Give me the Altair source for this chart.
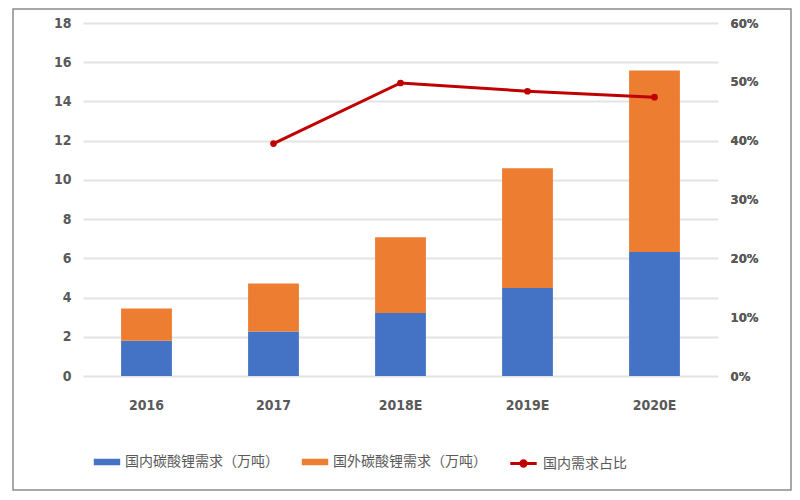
import altair as alt
import pandas as pd

years = ["2016", "2017", "2018E", "2019E", "2020E"]
domestic = [1.80, 2.27, 3.21, 4.49, 6.32]
overseas = [1.64, 2.45, 3.86, 6.10, 9.26]
share_years = ["2017", "2018E", "2019E", "2020E"]
share = [0.395, 0.498, 0.484, 0.474]

s_dom = "国内碳酸锂需求（万吨）"
s_ovs = "国外碳酸锂需求（万吨）"
s_share = "国内需求占比"

bars = pd.DataFrame(
    [{"year": y, "series": s_dom, "value": v, "ord": 0} for y, v in zip(years, domestic)]
    + [{"year": y, "series": s_ovs, "value": v, "ord": 1} for y, v in zip(years, overseas)]
)
line_df = pd.DataFrame({"year": share_years, "share": share, "series": s_share})

AXF = "'DejaVu Sans Condensed', 'Liberation Sans', sans-serif"
LC = "#595959"
CJK = "Noto Sans CJK SC"

xenc = alt.X(
    "year:N",
    sort=years,
    scale=alt.Scale(paddingInner=0.6, paddingOuter=0.3),
    axis=alt.Axis(title=None, labelAngle=0, domain=False, ticks=False, labelPadding=22,
                  labelFont=AXF, labelFontSize=14, labelColor=LC, labelFontWeight="bold"),
)

bar_layer = alt.Chart(bars).mark_bar().encode(
    x=xenc,
    y=alt.Y("value:Q", stack="zero",
            scale=alt.Scale(domain=[0, 18], nice=False),
            axis=alt.Axis(title=None, values=list(range(0, 19, 2)), grid=True,
                          gridColor="#e3e3e3", gridWidth=2, domain=False, ticks=False,
                          labelPadding=12, labelFont=AXF, labelFontSize=14,
                          labelColor=LC, labelFontWeight="bold")),
    color=alt.Color("series:N", sort=[s_dom, s_ovs],
                    scale=alt.Scale(domain=[s_dom, s_ovs], range=["#4472c4", "#ed7d31"]),
                    legend=alt.Legend(title=None, orient="none", direction="horizontal",
                                      legendX=12, legendY=427,
                                      symbolType="M-1.1,-0.27H1.1V0.27H-1.1Z", symbolSize=576,
                                      labelFont=CJK, labelFontSize=14, labelColor=LC,
                                      labelOffset=6, columnPadding=22, symbolStrokeWidth=0)),
    order=alt.Order("ord:Q"),
)

share_axis = alt.Axis(title=None, orient="right", values=[0, 0.1, 0.2, 0.3, 0.4, 0.5, 0.6],
                      format=".0%", grid=False, domain=False, ticks=False,
                      labelPadding=12, labelFont=AXF, labelFontSize=13,
                      labelColor=LC, labelFontWeight="bold")
yshare = alt.Y("share:Q", scale=alt.Scale(domain=[0, 0.6], nice=False), axis=share_axis)

line_layer = alt.Chart(line_df).mark_line(strokeWidth=3).encode(
    x=alt.X("year:N", sort=years),
    y=yshare,
    stroke=alt.Stroke("series:N", scale=alt.Scale(domain=[s_share], range=["#c00000"]),
                      legend=alt.Legend(title=None, orient="none", legendX=427, legendY=427,
                                        symbolType="M-1.1,0H1.1M-0.22,0A0.22,0.22,0,1,1,0.22,0A0.22,0.22,0,1,1,-0.22,0",
                                        symbolSize=576, symbolStrokeWidth=3,
                                        symbolFillColor="#c00000",
                                        labelFont=CJK, labelFontSize=14, labelColor=LC,
                                        labelOffset=6)),
)
point_layer = alt.Chart(line_df).mark_point(filled=True, size=45, color="#c00000", opacity=1).encode(
    x=alt.X("year:N", sort=years),
    y=yshare,
)

border = alt.Chart(pd.DataFrame({"a": [0]})).mark_rect(
    fill=None, stroke="#8c8c8c", strokeWidth=1.5
).encode(x=alt.value(-70), x2=alt.value(708), y=alt.value(-14), y2=alt.value(467))

chart = alt.layer(border, bar_layer, line_layer, point_layer).resolve_scale(
    y="independent", color="independent", stroke="independent"
).properties(
    width=635, height=353,
    autosize=alt.AutoSizeParams(type="none"),
    padding={"left": 75, "top": 15, "right": 74, "bottom": 115},
).configure_view(stroke=None)

chart.save("out.html", embed_options={"renderer": "svg", "actions": False})
